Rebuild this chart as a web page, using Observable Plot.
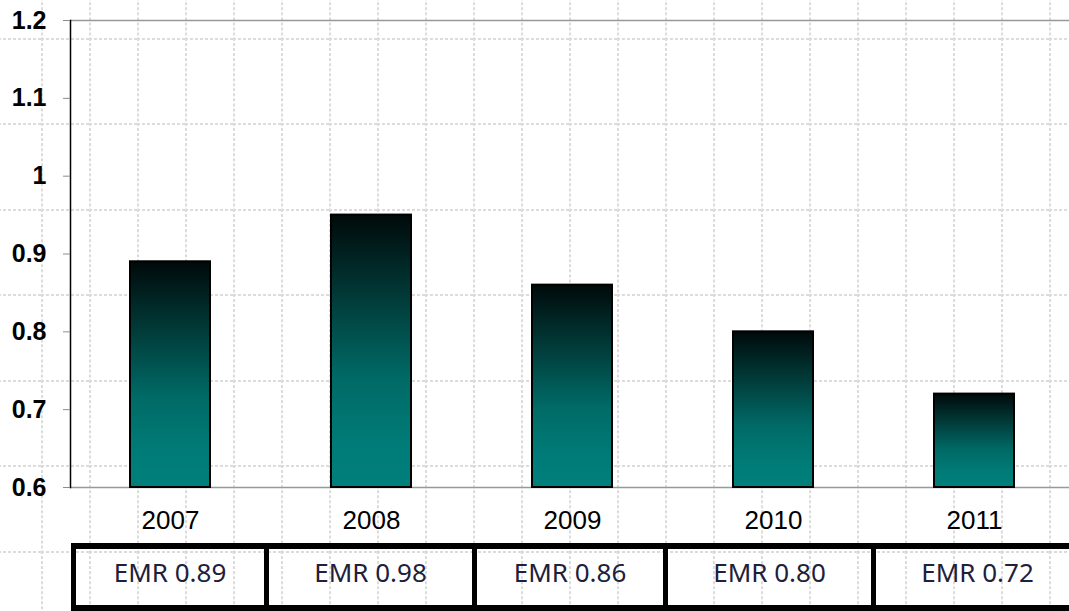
<!DOCTYPE html>
<html>
<head>
<meta charset="utf-8">
<script src="https://cdn.jsdelivr.net/npm/d3@7"></script>
<script src="https://cdn.jsdelivr.net/npm/@observablehq/plot@0.6"></script>
<style>
html, body { margin: 0; padding: 0; width: 1069px; height: 611px; overflow: hidden; background-color: #fff; }
body {
  background-image: url("data:image/svg+xml,%3Csvg xmlns='http://www.w3.org/2000/svg' width='48' height='85.5'%3E%3Cpath d='M1 0V85.5M0 1H48' stroke='%23dcdcdc' stroke-width='2' stroke-dasharray='3 2' fill='none'/%3E%3C/svg%3E");
  background-size: 48px 85.5px;
  background-position: 41px 38px;
}
#chart { position: absolute; left: 0; top: 0; }
#chart svg { background: transparent; }
#chart g[aria-label="y-axis tick"] path { stroke: #8c8c8c; }
#table { position: absolute; left: 71px; top: 543px; height: 68px; display: flex;
  border-top: 6px solid #000; border-bottom: 6px solid #000; box-sizing: border-box; }
.cell { border-left: 5px solid #000; box-sizing: border-box; display: flex; align-items: center;
  justify-content: center; font: 26px "Noto Sans", sans-serif; color: #20203a; padding-bottom: 10px; }
</style>
</head>
<body>
<div id="chart"></div>
<div id="table"></div>
<script>
const years = ["2007", "2008", "2009", "2010", "2011"];
const values = [0.89, 0.95, 0.86, 0.80, 0.72];
const emr = [0.89, 0.98, 0.86, 0.80, 0.72];
const yTicks = [0.6, 0.7, 0.8, 0.9, 1, 1.1, 1.2];

const data = years.map((y, i) => ({year: y, value: values[i]}));

const defs = () => {
  const d = d3.create("svg:defs");
  const g = d.append("linearGradient").attr("id", "barGrad")
    .attr("x1", 0).attr("y1", 0).attr("x2", 0).attr("y2", 1);
  [[0, "#000a0a"], [0.3, "#013a38"], [0.6, "#006a66"], [0.85, "#007c78"], [1, "#007f7b"]]
    .forEach(([o, c]) => g.append("stop").attr("offset", o).attr("stop-color", c));
  return d.node();
};

const chart = Plot.plot({
  width: 1069,
  height: 540,
  marginTop: 20,
  marginBottom: 53,
  marginLeft: 70,
  marginRight: 0,
  style: {background: "transparent", fontFamily: "'Liberation Sans', Arial, sans-serif", color: "#000"},
  x: {domain: years, range: [70, 1075], paddingInner: 0.6, paddingOuter: 0.3, label: null},
  y: {domain: [0.6, 1.2], label: null},
  marks: [
    defs,
    Plot.ruleY([0.6, 1.2], {stroke: "#999", strokeWidth: 1.5}),
    Plot.barY(data, {x: "year", y1: 0.6, y2: "value", fill: "url(#barGrad)", stroke: "#000", strokeWidth: 2}),
    Plot.frame({anchor: "left", stroke: "#000", strokeWidth: 1.5}),
    Plot.axisY({ticks: yTicks, tickFormat: d => String(+d.toFixed(1)), tickSize: 7, tickPadding: 17, fontSize: 25, fontWeight: "bold", label: null}),
    Plot.axisX({tickSize: 0, tickPadding: 23, fontSize: 26, label: null})
  ]
});
document.getElementById("chart").append(chart);

const cellWidths = [193, 208, 191, 208, 208];
const table = document.getElementById("table");
emr.forEach((v, i) => {
  const c = document.createElement("div");
  c.className = "cell";
  c.style.width = cellWidths[i] + "px";
  c.textContent = "EMR " + v.toFixed(2);
  table.append(c);
});
</script>
</body>
</html>
